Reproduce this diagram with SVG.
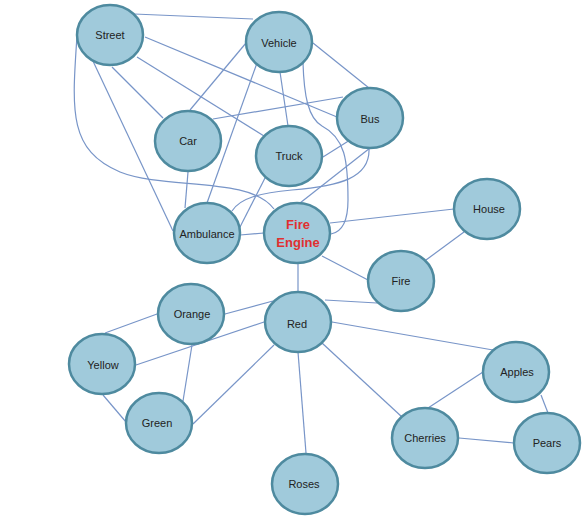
<svg xmlns="http://www.w3.org/2000/svg" width="586" height="528" viewBox="0 0 586 528">
<style>
.n ellipse{fill:#a0cadb;stroke:#4e8a9f;stroke-width:2.5}
.n text{font-family:"Liberation Sans",Arial,sans-serif;font-size:11px;fill:#222;text-anchor:middle}
#edges path,#edges line{stroke:#7895c8;stroke-width:1.2;fill:none}
.fe{font-weight:bold;font-size:13px!important;fill:#e03030!important}
</style>
<rect width="586" height="528" fill="#fff"/>
<g id="edges">
<line x1="134" y1="14" x2="253" y2="19"/>
<line x1="145" y1="37" x2="337" y2="117"/>
<line x1="137" y1="57" x2="264" y2="136"/>
<line x1="112" y1="67" x2="163" y2="118"/>
<line x1="92" y1="59" x2="173" y2="231"/>
<path d="M77,36 C72,110 68,150 120,172 C165,190 250,176 274,209"/>
<line x1="246" y1="43" x2="190" y2="110"/>
<line x1="257" y1="63" x2="207" y2="203"/>
<line x1="280" y1="72" x2="288" y2="126"/>
<line x1="313" y1="43" x2="369" y2="88"/>
<path d="M303,63 C304,95 308,118 322,126 C345,138 348,160 348,200 C348,222 342,232 331,234"/>
<line x1="213" y1="119" x2="343" y2="97"/>
<line x1="188" y1="172" x2="185" y2="208"/>
<line x1="265" y1="178" x2="240" y2="227"/>
<line x1="323" y1="157" x2="350" y2="140"/>
<line x1="370" y1="148" x2="300" y2="203"/>
<path d="M369,149 C370,178 340,186 292,190 C260,193 240,198 232,211"/>
<line x1="240" y1="235" x2="264" y2="233"/>
<line x1="330" y1="223" x2="454" y2="209"/>
<line x1="322" y1="256" x2="368" y2="280"/>
<line x1="298" y1="264" x2="298" y2="291"/>
<line x1="464" y1="232" x2="426" y2="260"/>
<line x1="325" y1="300" x2="377" y2="303"/>
<line x1="332" y1="322" x2="493" y2="350"/>
<line x1="322" y1="343" x2="402" y2="417"/>
<line x1="298" y1="352" x2="306" y2="453"/>
<line x1="225" y1="314" x2="273" y2="301"/>
<line x1="136" y1="365" x2="264" y2="322"/>
<line x1="193" y1="424" x2="274" y2="345"/>
<line x1="157" y1="314" x2="105" y2="333"/>
<line x1="192" y1="345" x2="183" y2="401"/>
<line x1="103" y1="395" x2="126" y2="422"/>
<line x1="483" y1="372" x2="428" y2="408"/>
<line x1="541" y1="395" x2="548" y2="413"/>
<line x1="459" y1="438" x2="514" y2="443"/>
</g>
<g id="street" class="n"><ellipse cx="110" cy="35" rx="33" ry="30"/><text x="110" y="39">Street</text></g>
<g id="vehicle" class="n"><ellipse cx="279" cy="42" rx="33" ry="30"/><text x="279" y="47">Vehicle</text></g>
<g id="bus" class="n"><ellipse cx="370" cy="118" rx="33" ry="30"/><text x="370" y="123">Bus</text></g>
<g id="car" class="n"><ellipse cx="188" cy="141" rx="33" ry="30"/><text x="188" y="145">Car</text></g>
<g id="truck" class="n"><ellipse cx="289" cy="156" rx="33" ry="30"/><text x="289" y="160">Truck</text></g>
<g id="ambulance" class="n"><ellipse cx="207" cy="233" rx="33" ry="30"/><text x="207" y="238">Ambulance</text></g>
<g id="fire-engine" class="n"><ellipse cx="297" cy="233" rx="33" ry="30"/><text class="fe" x="298" y="229">Fire</text><text class="fe" x="298" y="247">Engine</text></g>
<g id="house" class="n"><ellipse cx="487" cy="209" rx="33" ry="30"/><text x="489" y="213">House</text></g>
<g id="fire" class="n"><ellipse cx="401" cy="281" rx="33" ry="30"/><text x="401" y="285">Fire</text></g>
<g id="red" class="n"><ellipse cx="298" cy="322" rx="33" ry="30"/><text x="297" y="328">Red</text></g>
<g id="orange" class="n"><ellipse cx="191" cy="314" rx="33" ry="30"/><text x="192" y="318">Orange</text></g>
<g id="yellow" class="n"><ellipse cx="102" cy="364" rx="33" ry="30"/><text x="103" y="369">Yellow</text></g>
<g id="green" class="n"><ellipse cx="159" cy="423" rx="33" ry="30"/><text x="157" y="427">Green</text></g>
<g id="roses" class="n"><ellipse cx="305" cy="484" rx="33" ry="30"/><text x="304" y="488">Roses</text></g>
<g id="apples" class="n"><ellipse cx="516" cy="372" rx="33" ry="30"/><text x="517" y="376">Apples</text></g>
<g id="pears" class="n"><ellipse cx="547" cy="443" rx="33" ry="30"/><text x="547" y="447">Pears</text></g>
<g id="cherries" class="n"><ellipse cx="425" cy="438" rx="33" ry="30"/><text x="425" y="442">Cherries</text></g>
</svg>
